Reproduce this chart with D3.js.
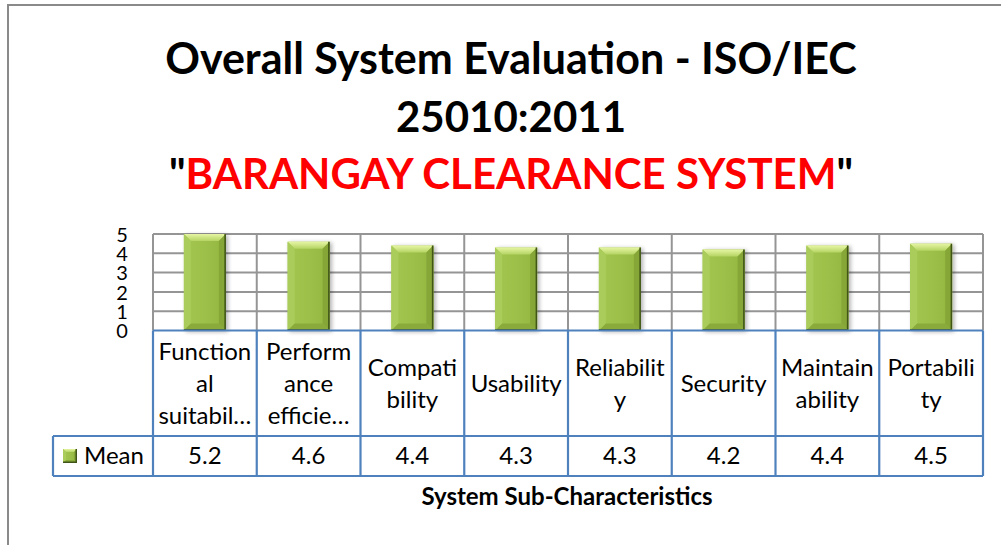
<!DOCTYPE html>
<html>
<head>
<meta charset="utf-8">
<script src="https://cdn.jsdelivr.net/npm/d3@7"></script>
<style>
  html, body { margin: 0; padding: 0; background: #fff; }
  svg { display: block; font-family: Lato, "Open Sans", sans-serif; }
</style>
</head>
<body>
<svg id="chart" width="1001" height="545"></svg>
<script>
// Survey results: mean score per ISO/IEC 25010 sub-characteristic
const categories = ["Functional suitability", "Performance efficiency", "Compatibility", "Usability",
                    "Reliability", "Security", "Maintainability", "Portability"];
// Category text as it wraps inside the data-table header cells
const categoryLines = [["Function", "al", "suitabil…"], ["Perform", "ance", "efficie…"], ["Compati", "bility"],
                       ["Usability"], ["Reliabilit", "y"], ["Security"], ["Maintain", "ability"], ["Portabili", "ty"]];
const seriesName = "Mean";
const meanValues = [5.2, 4.6, 4.4, 4.3, 4.3, 4.2, 4.4, 4.5];
const yTicks = [0, 1, 2, 3, 4, 5];
const titleLines = ["Overall System Evaluation - ISO/IEC", "25010:2011"];
const subtitle = "BARANGAY CLEARANCE SYSTEM";
const axisTitle = "System Sub-Characteristics";

const svg = d3.select("#chart");
const W = 1001, H = 545;

// chart frame
svg.append("path")
  .attr("d", `M8,${H} L8,5 L${W},5`)
  .attr("fill", "none").attr("stroke", "#8a8a8a").attr("stroke-width", 2);

// plot geometry
const plot = { left: 153, right: 983, top: 234, bottom: 330.5 };
const x = d3.scaleBand().domain(categories).range([plot.left, plot.right]).paddingInner(0).paddingOuter(0);
const y = d3.scaleLinear().domain([0, 5]).range([plot.bottom, plot.top]).clamp(true);

// titles
const title = svg.append("g").attr("font-weight", 700).attr("text-anchor", "middle");
titleLines.forEach((t, i) => {
  title.append("text").attr("x", 511).attr("y", [74, 132][i])
    .attr("font-size", [43, 42][i]).attr("fill", "#000").text(t);
});
const sub = title.append("text").attr("x", 511).attr("y", 189).attr("font-size", 42);
sub.append("tspan").attr("fill", "#000").text("\"");
sub.append("tspan").attr("fill", "#ff0000").text(subtitle);
sub.append("tspan").attr("fill", "#000").text("\"");

// gridlines
const grid = svg.append("g").attr("stroke", "#959595").attr("stroke-width", 2);
grid.selectAll("line.h").data(yTicks.filter(t => t > 0)).join("line")
  .attr("x1", plot.left).attr("x2", plot.right)
  .attr("y1", d => y(d)).attr("y2", d => y(d));
grid.selectAll("line.v").data(categories.concat([null])).join("line")
  .attr("x1", (d, i) => plot.left + i * x.bandwidth()).attr("x2", (d, i) => plot.left + i * x.bandwidth())
  .attr("y1", plot.top).attr("y2", plot.bottom);

// y axis labels
const yAxis = svg.append("g").attr("transform", `translate(${plot.left},0)`)
  .call(d3.axisLeft(y).tickValues(yTicks).tickSize(0).tickPadding(31).tickFormat(d3.format("d")));
yAxis.select(".domain").remove();
yAxis.selectAll("text").attr("font-family", "Lato, 'Open Sans', sans-serif")
  .attr("font-size", 20).attr("fill", "#000").attr("text-anchor", "middle")
  .attr("dy", "0.36em");

// bevelled bars
const defs = svg.append("defs");
const gTop = defs.append("linearGradient").attr("id", "bevTop").attr("x1", 0).attr("y1", 0).attr("x2", 0).attr("y2", 1);
gTop.append("stop").attr("offset", 0).attr("stop-color", "#e6f5a4");
gTop.append("stop").attr("offset", 1).attr("stop-color", "#b5d463");
const gBody = defs.append("linearGradient").attr("id", "bevBody").attr("x1", 0).attr("y1", 0).attr("x2", 1).attr("y2", 0);
gBody.append("stop").attr("offset", 0).attr("stop-color", "#a3c651");
gBody.append("stop").attr("offset", 0.5).attr("stop-color", "#9cc049");
gBody.append("stop").attr("offset", 1).attr("stop-color", "#93b640");
const shadow = defs.append("filter").attr("id", "barShadow").attr("x", "-20%").attr("y", "-10%").attr("width", "150%").attr("height", "130%");
shadow.append("feGaussianBlur").attr("in", "SourceAlpha").attr("stdDeviation", 2);
shadow.append("feOffset").attr("dx", 2).attr("dy", 1).attr("result", "sh");
shadow.append("feComponentTransfer").append("feFuncA").attr("type", "linear").attr("slope", 0.3);
const merge = shadow.append("feMerge");
merge.append("feMergeNode");
merge.append("feMergeNode").attr("in", "SourceGraphic");

function drawBevelBar(g, x0, x1, yt, yb, b) {
  g.append("rect").attr("x", x0).attr("y", yt).attr("width", x1 - x0).attr("height", yb - yt)
    .attr("fill", "url(#bevBody)");
  const poly = (pts, fill) => g.append("polygon").attr("points", pts.map(p => p.join(",")).join(" ")).attr("fill", fill);
  poly([[x0, yt], [x1, yt], [x1 - b, yt + b], [x0 + b, yt + b]], "url(#bevTop)");
  poly([[x0, yt], [x0 + b, yt + b], [x0 + b, yb - b], [x0, yb]], "#aacc5a");
  poly([[x1, yt], [x1, yb], [x1 - b, yb - b], [x1 - b, yt + b]], "#86a638");
  poly([[x0, yb], [x1, yb], [x1 - b, yb - b], [x0 + b, yb - b]], "#8aab3a");
  g.append("path").attr("d", `M${x1 - 0.75},${yt} L${x1 - 0.75},${yb - 0.75} L${x0},${yb - 0.75}`)
    .attr("fill", "none").attr("stroke", "#3f5417").attr("stroke-width", 1.5);
}

const barW = 42;
const bars = svg.append("g");
meanValues.forEach((v, i) => {
  const cx = x(categories[i]) + x.bandwidth() / 2;
  const g = bars.append("g").attr("filter", "url(#barShadow)");
  drawBevelBar(g, cx - barW / 2, cx + barW / 2, y(v), y(0), 7);
});

// data table
const tbl = { labelTop: plot.bottom, rowTop: 436, rowBottom: 476, keyLeft: 53 };
const blue = "#4f81bd";
const table = svg.append("g");
const lines = table.append("g").attr("stroke", blue).attr("stroke-width", 2.2).attr("fill", "none");
lines.append("line").attr("x1", plot.left).attr("x2", plot.right).attr("y1", tbl.labelTop).attr("y2", tbl.labelTop);
lines.append("line").attr("x1", tbl.keyLeft).attr("x2", plot.right).attr("y1", tbl.rowTop).attr("y2", tbl.rowTop);
lines.append("line").attr("x1", tbl.keyLeft).attr("x2", plot.right).attr("y1", tbl.rowBottom).attr("y2", tbl.rowBottom);
lines.append("line").attr("x1", tbl.keyLeft).attr("x2", tbl.keyLeft).attr("y1", tbl.rowTop).attr("y2", tbl.rowBottom);
lines.selectAll("line.col").data(categories.concat([null])).join("line")
  .attr("x1", (d, i) => plot.left + i * x.bandwidth()).attr("x2", (d, i) => plot.left + i * x.bandwidth())
  .attr("y1", tbl.labelTop).attr("y2", tbl.rowBottom);

// category header text
const lineH = 32;
categoryLines.forEach((ls, i) => {
  const cx = x(categories[i]) + x.bandwidth() / 2;
  const mid = (tbl.labelTop + tbl.rowTop) / 2;
  const t = table.append("text").attr("text-anchor", "middle").attr("font-size", 24).attr("fill", "#000");
  ls.forEach((s, j) => {
    t.append("tspan").attr("x", cx).attr("y", mid + (j - (ls.length - 1) / 2) * lineH).attr("dy", "0.35em").text(s);
  });
});

// value row
const rowMid = (tbl.rowTop + tbl.rowBottom) / 2;
table.selectAll("text.val").data(meanValues).join("text")
  .attr("x", (d, i) => x(categories[i]) + x.bandwidth() / 2).attr("y", rowMid).attr("dy", "0.35em")
  .attr("text-anchor", "middle").attr("font-size", 24).attr("fill", "#000")
  .text(d => d3.format(".1f")(d));

// legend key
const kg = table.append("g");
drawBevelBar(kg, 63, 77, rowMid - 7, rowMid + 7, 3);
table.append("text").attr("x", 84).attr("y", rowMid).attr("dy", "0.35em")
  .attr("font-size", 24).attr("fill", "#000").text(seriesName);

// axis title
svg.append("text").attr("x", 567).attr("y", 497).attr("dy", "0.35em").attr("text-anchor", "middle")
  .attr("font-size", 24).attr("font-weight", 700).attr("fill", "#000").text(axisTitle);
</script>
</body>
</html>
